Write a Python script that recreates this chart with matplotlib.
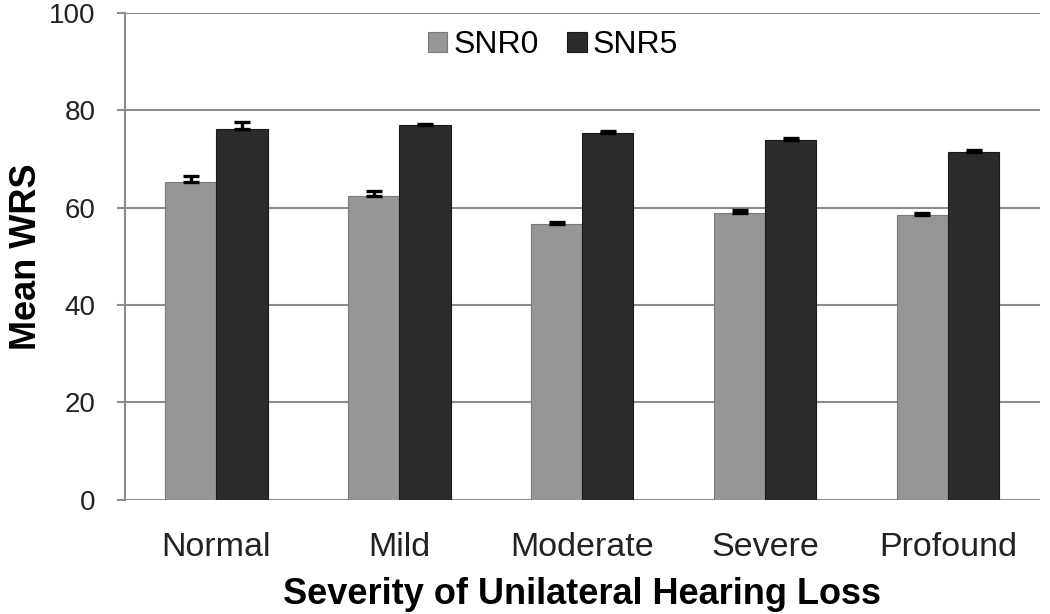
import numpy as np
import matplotlib.pyplot as plt

# Mean WRS by severity of unilateral hearing loss
categories = ['Normal', 'Mild', 'Moderate', 'Severe', 'Profound']
snr0 = [65.2, 62.4, 56.6, 59.0, 58.5]
snr0_err = [1.3, 1.0, 0.4, 0.5, 0.4]
snr5 = [76.2, 76.9, 75.4, 73.9, 71.5]
snr5_err = [1.4, 0.3, 0.4, 0.4, 0.4]

plt.rcParams['font.family'] = ['Liberation Sans', 'DejaVu Sans']

fig = plt.figure(figsize=(10.5, 6.14), dpi=100)
ax = fig.add_axes([0.119, 0.186, 0.871, 0.793])

x = np.arange(len(categories))
w = 0.28
ekw = dict(elinewidth=2.4, capthick=2.4, ecolor='black')
# only the upper half of the error bar is drawn
ax.bar(x - w / 2, snr0, w, color='#969696', edgecolor='#7a7a7a', linewidth=0.8,
       yerr=[[0] * len(snr0_err), snr0_err], capsize=6, error_kw=ekw,
       label='SNR0', zorder=3)
ax.bar(x + w / 2, snr5, w, color='#2b2b2b', edgecolor='#1a1a1a', linewidth=0.8,
       yerr=[[0] * len(snr5_err), snr5_err], capsize=6, error_kw=ekw,
       label='SNR5', zorder=3)

ax.set_xlim(-0.5, len(categories) - 0.5)
ax.set_ylim(0, 100)
ax.set_yticks(range(0, 101, 20))
ax.set_xticks(x)
ax.set_xticklabels(categories)
ax.yaxis.grid(True, color='#8c8c8c', linewidth=1.5, zorder=0)

for s in ['top', 'right', 'bottom']:
    ax.spines[s].set_visible(False)
ax.spines['left'].set_color('#8c8c8c')
ax.spines['left'].set_linewidth(1.5)
ax.tick_params(axis='y', colors='#8c8c8c', length=6, width=1.5, labelsize=20, labelcolor='#222222', pad=15)
ax.tick_params(axis='x', length=0, labelsize=24.5, labelcolor='#222222', pad=23)

ax.set_ylabel('Mean WRS', fontsize=26, fontweight='bold', labelpad=4)
ax.set_xlabel('Severity of Unilateral Hearing Loss', fontsize=26, fontweight='bold', labelpad=10)

ax.legend(loc='center', bbox_to_anchor=(0.468, 0.934), ncol=2, frameon=False,
          fontsize=23, handlelength=0.6, handleheight=0.6, handletextpad=0.2, columnspacing=0.9)

fig.savefig('out.png', dpi=100)
